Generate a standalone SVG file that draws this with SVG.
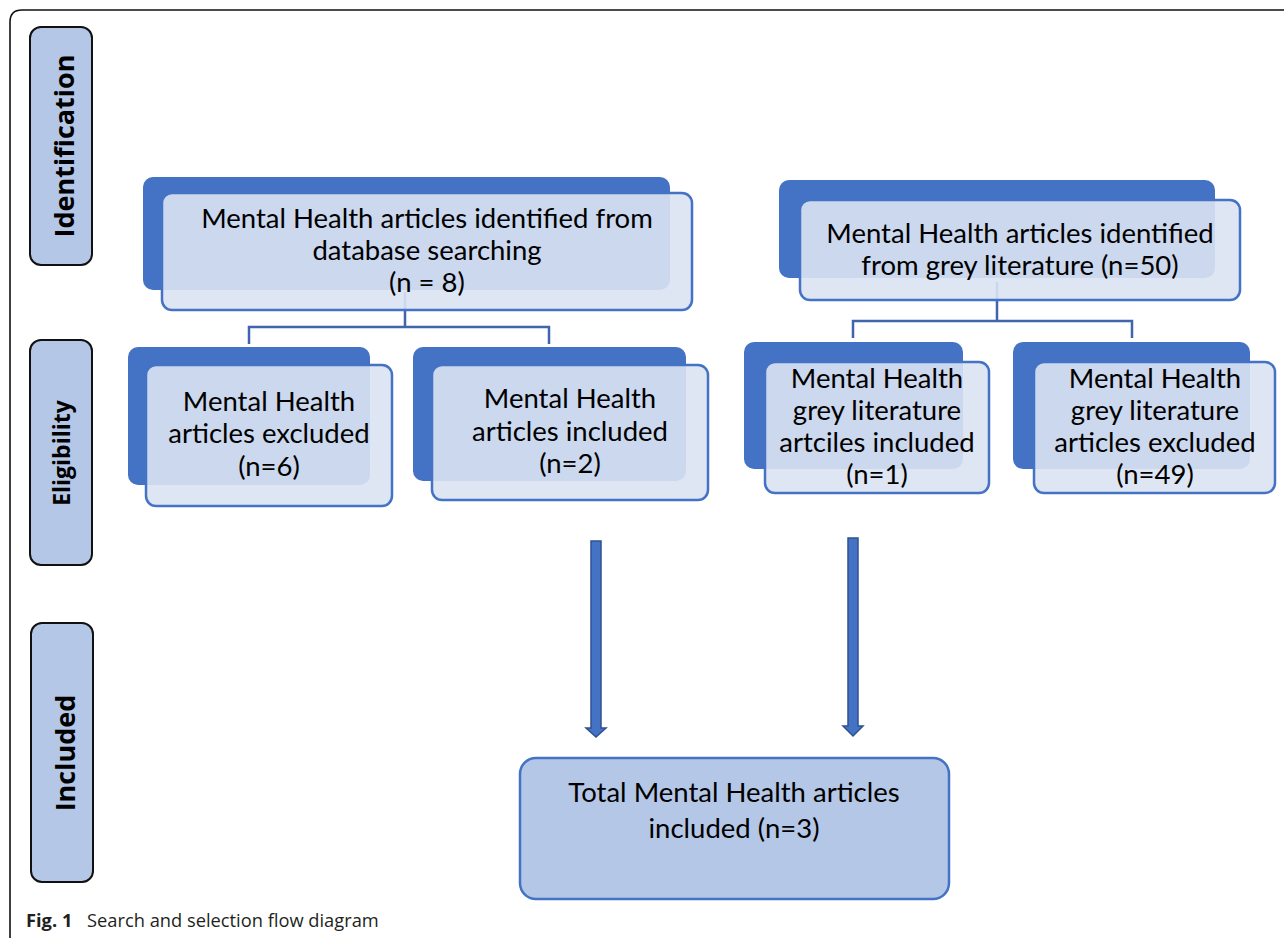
<svg xmlns="http://www.w3.org/2000/svg" width="1284" height="940" viewBox="0 0 1284 940">
  <style>
    .frame { fill: none; stroke: #111; stroke-width: 1.6; }
    .stage { fill: #B4C7E7; stroke: #111; stroke-width: 2; }
    .stage-text { font-family: "Open Sans", "Noto Sans", sans-serif; font-weight: bold; fill: #000; text-anchor: middle; }
    .back { fill: #4472C4; }
    .front { fill: #DAE3F3; fill-opacity: 0.9; stroke: #4472C4; stroke-width: 2.5; }
    .total { fill: #B4C7E7; stroke: #4472C4; stroke-width: 2.5; }
    .label { font-family: "Lato", "Open Sans", sans-serif; font-size: 27.5px; fill: #000; text-anchor: middle; }
    .link { fill: none; stroke: #4065AD; stroke-width: 2.5; }
    .arrow { fill: #4472C4; stroke: #2F528F; stroke-width: 1.5; }
    .caption { font-family: "Open Sans", "Noto Sans", sans-serif; font-size: 18.3px; fill: #231F20; }
  </style>

  <!-- outer figure frame -->
  <path class="frame" d="M 1284 10 L 22 10 Q 10 10 10 22 L 10 938"/>

  <!-- stage labels -->
  <g id="stage-identification">
    <rect class="stage" x="30" y="27" width="62" height="238" rx="11"/>
    <text class="stage-text" font-size="27" transform="translate(74 146) rotate(-90)">Identification</text>
  </g>
  <g id="stage-eligibility">
    <rect class="stage" x="30" y="340" width="62" height="225" rx="11"/>
    <text class="stage-text" font-size="23" transform="translate(70 453) rotate(-90)">Eligibility</text>
  </g>
  <g id="stage-included">
    <rect class="stage" x="31" y="623" width="62" height="259" rx="11"/>
    <text class="stage-text" font-size="27" transform="translate(75 753) rotate(-90)">Included</text>
  </g>

  <!-- connectors -->
  <g id="connectors">
    <path class="link" d="M 405 292 L 405 327 M 249 344 L 249 327 L 549 327 L 549 344"/>
    <path class="link" d="M 997 282 L 997 321 M 853 338 L 853 321 L 1132 321 L 1132 338"/>
    <path class="arrow" d="M 591 541 L 601 541 L 601 728 L 606 728 L 596 737 L 586 728 L 591 728 Z"/>
    <path class="arrow" d="M 848 538 L 858 538 L 858 726 L 863 726 L 853 736 L 843 726 L 848 726 Z"/>
  </g>

  <!-- identification nodes -->
  <g id="node-database">
    <rect class="back" x="143" y="177" width="527" height="113" rx="10"/>
    <rect class="front" x="162" y="193" width="530" height="117" rx="10"/>
    <text class="label" x="427" y="228">Mental Health articles identified from</text>
    <text class="label" x="427" y="260">database searching</text>
    <text class="label" x="427" y="292">(n = 8)</text>
  </g>
  <g id="node-grey">
    <rect class="back" x="779" y="180" width="436" height="98" rx="10"/>
    <rect class="front" x="800" y="200" width="440" height="100" rx="10"/>
    <text class="label" x="1020" y="243">Mental Health articles identified</text>
    <text class="label" x="1020" y="275">from grey literature (n=50)</text>
  </g>

  <!-- eligibility nodes -->
  <g id="node-db-excluded">
    <rect class="back" x="128" y="347" width="242" height="138" rx="10"/>
    <rect class="front" x="146" y="365" width="246" height="141" rx="10"/>
    <text class="label" x="269" y="411">Mental Health</text>
    <text class="label" x="269" y="443">articles excluded</text>
    <text class="label" x="269" y="476">(n=6)</text>
  </g>
  <g id="node-db-included">
    <rect class="back" x="413" y="347" width="273" height="134" rx="10"/>
    <rect class="front" x="432" y="365" width="276" height="135" rx="10"/>
    <text class="label" x="570" y="408">Mental Health</text>
    <text class="label" x="570" y="441">articles included</text>
    <text class="label" x="570" y="473">(n=2)</text>
  </g>
  <g id="node-grey-included">
    <rect class="back" x="744" y="342" width="219" height="127" rx="10"/>
    <rect class="front" x="765" y="362" width="224" height="131" rx="10"/>
    <text class="label" x="877" y="388">Mental Health</text>
    <text class="label" x="877" y="420">grey literature</text>
    <text class="label" x="877" y="452">artciles included</text>
    <text class="label" x="877" y="484">(n=1)</text>
  </g>
  <g id="node-grey-excluded">
    <rect class="back" x="1013" y="342" width="237" height="127" rx="10"/>
    <rect class="front" x="1034" y="362" width="241" height="131" rx="10"/>
    <text class="label" x="1155" y="388">Mental Health</text>
    <text class="label" x="1155" y="420">grey literature</text>
    <text class="label" x="1155" y="452">articles excluded</text>
    <text class="label" x="1155" y="484">(n=49)</text>
  </g>

  <!-- included node -->
  <g id="node-total">
    <rect class="total" x="520" y="758" width="429" height="141" rx="16"/>
    <text class="label" x="734" y="802">Total Mental Health articles</text>
    <text class="label" x="734" y="838">included (n=3)</text>
  </g>

  <!-- caption -->
  <text class="caption" x="26" y="927"><tspan font-weight="bold">Fig. 1</tspan><tspan x="87">Search and selection flow diagram</tspan></text>
</svg>
